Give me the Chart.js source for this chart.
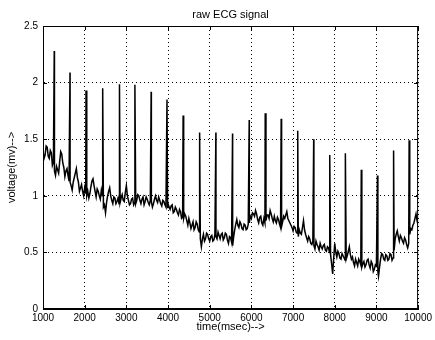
<!DOCTYPE html>
<html>
<head>
<meta charset="utf-8">
<title>raw ECG signal</title>
<script src="https://cdn.jsdelivr.net/npm/chart.js@4.4.1/dist/chart.umd.min.js"></script>
<style>
  html, body { margin: 0; padding: 0; background: #fff; }
  #wrap { width: 435px; height: 340px; }
</style>
</head>
<body>
<div id="wrap"><canvas id="ecg" width="435" height="340"></canvas></div>
<script>
// raw ECG trace (msec / mV)
const traceTimes = [
  1000, 1050, 1100, 1150, 1200, 1250, 1300, 1350, 1400, 1450,
  1500, 1550, 1600, 1650, 1700, 1750, 1800, 1850, 1900, 1950,
  2000, 2050, 2100, 2150, 2200, 2250, 2300, 2350, 2400, 2450,
  2500, 2550, 2600, 2650, 2700, 2750, 2800, 2850, 2900, 2950,
  3000, 3050, 3100, 3150, 3200, 3250, 3300, 3350, 3400, 3450,
  3500, 3550, 3600, 3650, 3700, 3750, 3800, 3850, 3900, 3950,
  4000, 4050, 4100, 4150, 4200, 4250, 4300, 4350, 4400, 4450,
  4500, 4550, 4600, 4650, 4700, 4750, 4800, 4850, 4900, 4950,
  5000, 5050, 5100, 5150, 5200, 5250, 5300, 5350, 5400, 5450,
  5500, 5550, 5600, 5650, 5700, 5750, 5800, 5850, 5900, 5950,
  6000, 6050, 6100, 6150, 6200, 6250, 6300, 6350, 6400, 6450,
  6500, 6550, 6600, 6650, 6700, 6750, 6800, 6850, 6900, 6950,
  7000, 7050, 7100, 7150, 7200, 7250, 7300, 7350, 7400, 7450,
  7500, 7550, 7600, 7650, 7700, 7750, 7800, 7850, 7900, 7950,
  8000, 8050, 8100, 8150, 8200, 8250, 8300, 8350, 8400, 8450,
  8500, 8550, 8600, 8650, 8700, 8750, 8800, 8850, 8900, 8950,
  9000, 9050, 9100, 9150, 9200, 9250, 9300, 9350, 9400, 9450,
  9500, 9550, 9600, 9650, 9700, 9750, 9800, 9850, 9900, 9950,
  10000
];
const traceVolts = [
  1.40, 1.36, 1.43, 1.33, 1.38, 1.30, 1.18, 1.23, 1.30, 1.37,
  1.25, 1.22, 1.18, 1.12, 1.05, 1.16, 1.24, 1.12, 1.07, 1.04,
  1.07, 1.00, 0.98, 1.08, 1.15, 1.04, 1.06, 1.00, 1.05, 0.90,
  0.85, 1.00, 1.07, 0.96, 0.99, 0.93, 0.98, 0.94, 1.01, 0.95,
  1.09, 0.96, 0.93, 0.98, 0.94, 0.96, 1.00, 0.93, 0.99, 0.95,
  0.97, 0.92, 0.95, 0.93, 1.00, 0.94, 0.96, 0.91, 0.95, 0.90,
  0.93, 0.88, 0.92, 0.86, 0.88, 0.83, 0.86, 0.81, 0.84, 0.78,
  0.80, 0.71, 0.77, 0.72, 0.75, 0.68, 0.55, 0.66, 0.62, 0.66,
  0.60, 0.65, 0.61, 0.64, 0.68, 0.62, 0.67, 0.63, 0.66, 0.58,
  0.63, 0.56, 0.70, 0.79, 0.72, 0.75, 0.70, 0.74, 0.71, 0.76,
  0.80, 0.84, 0.87, 0.79, 0.81, 0.76, 0.80, 0.78, 0.83, 0.87,
  0.80, 0.82, 0.76, 0.79, 0.72, 0.77, 0.80, 0.86, 0.78, 0.74,
  0.69, 0.72, 0.67, 0.70, 0.66, 0.78, 0.66, 0.60, 0.62, 0.57,
  0.56, 0.60, 0.55, 0.58, 0.53, 0.57, 0.51, 0.54, 0.48, 0.31,
  0.58, 0.46, 0.49, 0.44, 0.47, 0.43, 0.47, 0.55, 0.44, 0.41,
  0.44, 0.38, 0.42, 0.37, 0.42, 0.39, 0.44, 0.36, 0.40, 0.35,
  0.38, 0.29, 0.44, 0.48, 0.43, 0.47, 0.44, 0.48, 0.45, 0.62,
  0.69, 0.60, 0.63, 0.58, 0.61, 0.54, 0.66, 0.70, 0.76, 0.84,
  0.74
];
// in-between samples (the noisy band)
const midTimes = [
  1025, 1075, 1125, 1175, 1225, 1275, 1325, 1375, 1425, 1475,
  1525, 1575, 1625, 1675, 1725, 1775, 1825, 1875, 1925, 1975,
  2025, 2075, 2125, 2175, 2225, 2275, 2325, 2375, 2425, 2475,
  2525, 2575, 2625, 2675, 2725, 2775, 2825, 2875, 2925, 2975,
  3025, 3075, 3125, 3175, 3225, 3275, 3325, 3375, 3425, 3475,
  3525, 3575, 3625, 3675, 3725, 3775, 3825, 3875, 3925, 3990,
  4025, 4075, 4125, 4175, 4225, 4275, 4325, 4375, 4425, 4475,
  4525, 4575, 4625, 4675, 4725, 4775, 4825, 4875, 4925, 4975,
  5025, 5075, 5125, 5175, 5225, 5275, 5325, 5375, 5425, 5475,
  5525, 5575, 5625, 5675, 5725, 5775, 5825, 5875, 5925, 5975,
  6025, 6075, 6125, 6175, 6225, 6275, 6325, 6375, 6425, 6475,
  6525, 6575, 6625, 6675, 6725, 6775, 6825, 6875, 6925, 6975,
  7025, 7075, 7125, 7175, 7225, 7275, 7325, 7375, 7425, 7475,
  7525, 7575, 7625, 7675, 7725, 7775, 7825, 7875, 7925, 7975,
  8025, 8075, 8125, 8175, 8225, 8275, 8325, 8375, 8425, 8475,
  8525, 8575, 8625, 8675, 8725, 8775, 8825, 8875, 8925, 8975,
  9035, 9075, 9125, 9175, 9225, 9275, 9325, 9375, 9425, 9475,
  9525, 9575, 9625, 9675, 9725, 9775, 9825, 9875, 9925, 9975
];
const midVolts = [
  1.33, 1.44, 1.35, 1.40, 1.27, 1.22, 1.26, 1.20, 1.39, 1.29,
  1.17, 1.24, 1.13, 1.09, 1.12, 1.20, 1.16, 1.04, 1.10, 1.00,
  1.02, 1.04, 1.02, 1.13, 1.09, 0.99, 1.04, 0.97, 1.00, 0.92,
  0.94, 1.04, 1.00, 0.93, 0.98, 0.95, 0.93, 0.98, 0.96, 1.03,
  1.00, 0.92, 0.97, 0.92, 0.93, 1.01, 0.96, 0.97, 0.92, 0.99,
  0.94, 0.96, 0.90, 0.97, 0.96, 0.99, 0.93, 0.96, 0.92, 0.89,
  0.90, 0.91, 0.85, 0.90, 0.85, 0.88, 0.80, 0.80, 0.82, 0.74,
  0.76, 0.74, 0.70, 0.77, 0.70, 0.62, 0.62, 0.60, 0.67, 0.62,
  0.64, 0.60, 0.66, 0.62, 0.65, 0.66, 0.61, 0.67, 0.61, 0.64,
  0.59, 0.64, 0.75, 0.74, 0.77, 0.71, 0.75, 0.70, 0.75, 0.82,
  0.85, 0.82, 0.84, 0.76, 0.82, 0.74, 0.76, 0.83, 0.80, 0.84,
  0.77, 0.78, 0.81, 0.75, 0.73, 0.82, 0.83, 0.80, 0.76, 0.72,
  0.73, 0.68, 0.64, 0.67, 0.72, 0.70, 0.63, 0.64, 0.58, 0.60,
  0.53, 0.57, 0.52, 0.55, 0.56, 0.52, 0.55, 0.50, 0.40, 0.45,
  0.50, 0.51, 0.45, 0.49, 0.45, 0.44, 0.51, 0.48, 0.46, 0.38,
  0.41, 0.44, 0.39, 0.40, 0.37, 0.43, 0.39, 0.42, 0.33, 0.39,
  0.33, 0.37, 0.49, 0.44, 0.48, 0.43, 0.49, 0.43, 0.52, 0.66,
  0.64, 0.65, 0.60, 0.63, 0.57, 0.58, 0.71, 0.74, 0.80, 0.78
];
// R-wave spikes
const rPeakTimes = [
  1270, 1648, 2032, 2432, 2835, 3205, 3595, 3975, 4362, 4758, 5148, 5548,
  5948, 6332, 6715, 7112, 7495, 7880, 8255, 8637, 9025, 9412, 9785
];
const rPeakVolts = [
  2.28, 2.09, 1.93, 1.95, 1.985, 1.98, 1.92, 1.85, 1.71, 1.56, 1.56, 1.55,
  1.67, 1.73, 1.68, 1.575, 1.50, 1.36, 1.375, 1.23, 1.18, 1.40, 1.49
];
const xTicks = [1000, 2000, 3000, 4000, 5000, 6000, 7000, 8000, 9000, 10000];
const yTicks = [0, 0.5, 1, 1.5, 2, 2.5];

const chartTitle = "raw ECG signal";
const xTitle = "time(msec)-->";
const yTitle = "voltage(mv)-->";

const FONT = '"Liberation Sans", Arial, Helvetica, sans-serif';
Chart.defaults.font.family = FONT;
Chart.defaults.color = "#000";

const pairs = (ts, vs) => ts.map((t, i) => ({ x: t, y: vs[i] }));
const points = pairs(traceTimes, traceVolts)
  .concat(pairs(midTimes, midVolts), pairs(rPeakTimes, rPeakVolts))
  .sort((a, b) => a.x - b.x);

// matlab-style box with inward tick marks
const frame = {
  id: "frame",
  afterDraw(chart) {
    const { ctx, chartArea: a, scales } = chart;
    ctx.save();
    ctx.strokeStyle = "#000";
    ctx.lineWidth = 1;
    ctx.strokeRect(a.left + 0.5, a.top + 0.5, a.right - a.left - 1, a.bottom - a.top - 1);
    ctx.beginPath();
    scales.x.ticks.forEach((t) => {
      const px = Math.round(scales.x.getPixelForValue(t.value)) + 0.5;
      ctx.moveTo(px, a.bottom); ctx.lineTo(px, a.bottom - 4);
      ctx.moveTo(px, a.top); ctx.lineTo(px, a.top + 4);
    });
    scales.y.ticks.forEach((t) => {
      const py = Math.round(scales.y.getPixelForValue(t.value)) + 0.5;
      ctx.moveTo(a.left, py); ctx.lineTo(a.left + 4, py);
      ctx.moveTo(a.right, py); ctx.lineTo(a.right - 4, py);
    });
    ctx.stroke();
    ctx.restore();
  }
};

new Chart(document.getElementById("ecg"), {
  type: "line",
  data: {
    datasets: [{
      data: points,
      borderColor: "#000",
      borderWidth: 1.5,
      pointRadius: 0,
      tension: 0,
      fill: false
    }]
  },
  options: {
    responsive: false,
    animation: false,
    layout: { padding: { top: 0, right: 16, bottom: 0, left: 0 } },
    plugins: {
      legend: { display: false },
      tooltip: { enabled: false },
      title: {
        display: true,
        text: chartTitle,
        fullSize: false,
        font: { size: 11, weight: "normal", family: FONT },
        color: "#000",
        padding: { top: 8, bottom: 4.8 }
      }
    },
    scales: {
      x: {
        type: "linear",
        min: 1000,
        max: 10000,
        afterBuildTicks: (s) => { s.ticks = xTicks.map((v) => ({ value: v })); },
        afterFit: (s) => { s.height = 31; },
        ticks: { font: { size: 10 }, padding: 3, maxRotation: 0, callback: (v) => String(v) },
        grid: { color: "#000", lineWidth: 1, drawTicks: false },
        border: { display: true, color: "#000", dash: [1, 3] },
        title: { display: true, text: xTitle, font: { size: 11 }, padding: { top: 0, bottom: 6.4 } }
      },
      y: {
        min: 0,
        max: 2.5,
        afterBuildTicks: (s) => { s.ticks = yTicks.map((v) => ({ value: v })); },
        afterFit: (s) => { s.width = 43; },
        ticks: { font: { size: 10 }, padding: 5, callback: (v) => String(v) },
        grid: { color: "#000", lineWidth: 1, drawTicks: false },
        border: { display: true, color: "#000", dash: [1, 3] },
        title: { display: true, text: yTitle, font: { size: 11 }, padding: { top: 5.4, bottom: 0 } }
      }
    }
  },
  plugins: [frame]
});
</script>
</body>
</html>
